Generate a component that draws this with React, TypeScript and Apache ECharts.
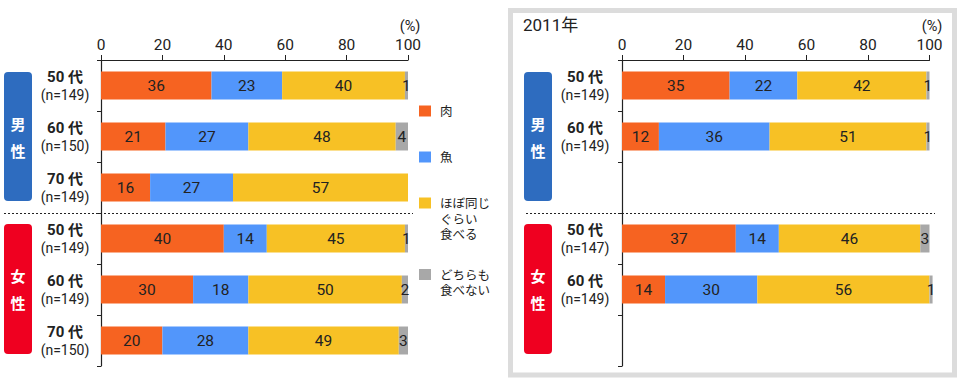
import React, { useEffect, useRef } from "react";
import * as echarts from "echarts";

// ---- data ----
const rowKeys = ["男50", "男60", "男70", "女50", "女60", "女70"];
const ageLabelsLeft = ["50 代", "60 代", "70 代", "50 代", "60 代", "70 代"];
const nLeft = ["149", "150", "149", "149", "149", "150"];
const ageLabelsRight = ["50 代", "60 代", "", "50 代", "60 代", ""];
const nRight = ["149", "149", "", "147", "149", ""];

const seriesNames = ["肉", "魚", "ほぼ同じぐらい食べる", "どちらも食べない"];
const legendLabels = ["肉", "魚", "ほぼ同じ\nぐらい\n食べる", "どちらも\n食べない"];

const meatLeft = [36, 21, 16, 40, 30, 20];
const fishLeft = [23, 27, 27, 14, 18, 28];
const sameLeft = [40, 48, 57, 45, 50, 49];
const neitherLeft = [1, 4, 0, 1, 2, 3];

const meatRight = [35, 12, null, 37, 14, null];
const fishRight = [22, 36, null, 14, 30, null];
const sameRight = [42, 51, null, 46, 56, null];
const neitherRight = [1, 1, null, 3, 1, null];

const xTicks = [0, 20, 40, 60, 80, 100];

const colors = ["#f66321", "#5296fb", "#f7c125", "#a8a8a8"];
const FONT = "Roboto, 'Noto Sans CJK JP', sans-serif";

export default function App() {
  const ref = useRef<HTMLDivElement>(null);

  useEffect(() => {
    if (!ref.current) return;
    const chart = echarts.init(ref.current, undefined, { renderer: "svg" });

    const gridTop = 60;
    const gridH = 306;
    const grids = [
      { left: 101, top: gridTop, width: 307, height: gridH },
      { left: 622, top: gridTop, width: 307.5, height: gridH },
    ];

    const mkX = (i: number) => ({
      type: "value",
      gridIndex: i,
      position: "top",
      min: xTicks[0],
      max: xTicks[xTicks.length - 1],
      interval: 20,
      axisLine: { show: true, lineStyle: { color: "#222", width: 1.2 } },
      axisTick: { show: true, length: 5, lineStyle: { color: "#222" } },
      splitLine: { show: false },
      axisLabel: { fontSize: 15.5, color: "#222", margin: 7, fontFamily: FONT },
    });

    const mkY = (i: number, ages: string[], ns: string[], margin: number) => ({
      type: "category",
      gridIndex: i,
      inverse: true,
      data: rowKeys,
      axisLine: { show: true, lineStyle: { color: "#222", width: 1.2 } },
      axisTick: { show: true, length: 4, lineStyle: { color: "#222" } },
      axisLabel: {
        margin,
        align: "center",
        fontFamily: FONT,
        formatter: (_v: string, idx: number) =>
          ages[idx] ? `{a|${ages[idx]}}\n{b|(n=${ns[idx]})}` : "",
        rich: {
          a: { fontSize: 15, fontWeight: "bold", color: "#222", lineHeight: 18, fontFamily: FONT },
          b: { fontSize: 14, color: "#222", lineHeight: 17, fontFamily: FONT },
        },
      },
    });

    const leftData = [meatLeft, fishLeft, sameLeft, neitherLeft];
    const rightData = [meatRight, fishRight, sameRight, neitherRight];

    const mkSeries = (gi: number, data: (number | null)[][]) =>
      data.map((d, k) => ({
        name: seriesNames[k],
        type: "bar",
        stack: "s" + gi,
        xAxisIndex: gi,
        yAxisIndex: gi,
        barWidth: 28,
        clip: false,
        data: d,
        itemStyle: { color: colors[k] },
        label: {
          show: true,
          position: "inside",
          fontSize: 15.5,
          color: "#222",
          fontFamily: FONT,
          formatter: (p: any) => (p.value ? String(p.value) : ""),
        },
      }));

    const legendYs = [111, 157, 203, 274.5];
    const legendGraphics: any[] = [];
    legendLabels.forEach((lab, k) => {
      legendGraphics.push({
        type: "rect",
        shape: { x: 419, y: legendYs[k] - 5.5, width: 12, height: 11 },
        style: { fill: colors[k] },
      });
      legendGraphics.push({
        type: "text",
        x: 440,
        y: legendYs[k] - 7,
        style: {
          text: lab,
          fontSize: 12.5,
          fill: "#222",
          fontFamily: FONT,
          lineHeight: 15.5,
          verticalAlign: "top",
        },
      });
    });

    const sexBox = (x: number, y: number, h: number, fill: string, c1: string, c2: string) => [
      { type: "rect", shape: { x, y, width: 28, height: h, r: 4 }, style: { fill } },
      {
        type: "text",
        x: x + 14,
        y: y + h / 2 - 12,
        style: { text: c1, fontSize: 15, fill: "#fff", fontWeight: "bold", align: "center", verticalAlign: "middle", fontFamily: FONT },
      },
      {
        type: "text",
        x: x + 14,
        y: y + h / 2 + 15,
        style: { text: c2, fontSize: 15, fill: "#fff", fontWeight: "bold", align: "center", verticalAlign: "middle", fontFamily: FONT },
      },
    ];

    chart.setOption({
      animation: false,
      grid: grids,
      xAxis: [mkX(0), mkX(1)],
      yAxis: [mkY(0, ageLabelsLeft, nLeft, 36), mkY(1, ageLabelsRight, nRight, 37)],
      series: [...mkSeries(0, leftData), ...mkSeries(1, rightData)],
      graphic: [
        // right panel frame
        {
          type: "rect",
          shape: { x: 510.5, y: 10.5, width: 444, height: 364.5 },
          style: { fill: "none", stroke: "#dcdcdc", lineWidth: 5 },
          z: -1,
        },
        {
          type: "text",
          x: 523,
          y: 25,
          style: { text: "2011年", fontSize: 17, fill: "#222", verticalAlign: "middle", fontFamily: FONT },
        },
        {
          type: "text",
          x: 410,
          y: 26.5,
          style: { text: "(%)", fontSize: 14.5, fill: "#222", align: "center", verticalAlign: "middle", fontFamily: FONT },
        },
        {
          type: "text",
          x: 932,
          y: 26.5,
          style: { text: "(%)", fontSize: 14.5, fill: "#222", align: "center", verticalAlign: "middle", fontFamily: FONT },
        },
        // dotted separators
        {
          type: "line",
          shape: { x1: 4, y1: 213.5, x2: 413, y2: 213.5 },
          style: { stroke: "#222", lineWidth: 1, lineDash: [2, 2] },
        },
        {
          type: "line",
          shape: { x1: 526, y1: 213.5, x2: 935, y2: 213.5 },
          style: { stroke: "#222", lineWidth: 1, lineDash: [2, 2] },
        },
        ...sexBox(4, 72, 129, "#2e6cbf", "男", "性"),
        ...sexBox(4, 224, 130, "#ef0020", "女", "性"),
        ...sexBox(524, 72, 129, "#2e6cbf", "男", "性"),
        ...sexBox(524, 224, 130, "#ef0020", "女", "性"),
        ...legendGraphics,
      ],
    });

    return () => chart.dispose();
  }, []);

  return (
    <div
      ref={ref}
      style={{ position: "fixed", left: 0, top: 0, width: 960, height: 384, background: "#fff" }}
    />
  );
}
